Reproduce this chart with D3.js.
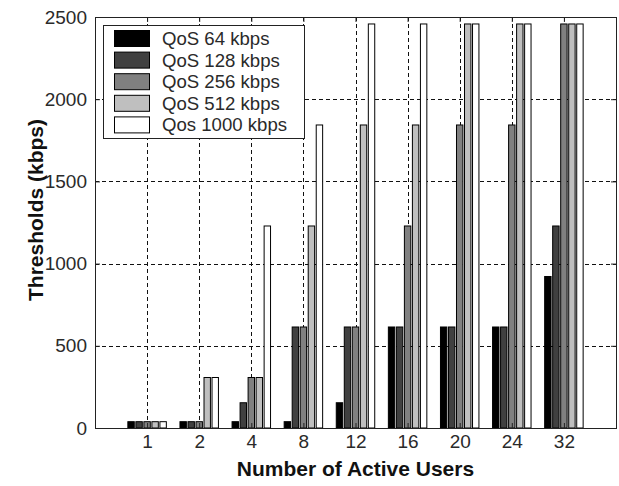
<!DOCTYPE html>
<html>
<head>
<meta charset="utf-8">
<script src="https://cdn.jsdelivr.net/npm/d3@7"></script>
<style>
  html, body { margin: 0; padding: 0; background: #fff; }
  svg { display: block; }
  text { font-family: "Liberation Sans", Arial, sans-serif; }
</style>
</head>
<body>
<svg id="chart" width="619" height="486"></svg>
<script>
// categories (x axis) and series values
var users = ["1", "2", "4", "8", "12", "16", "20", "24", "32"];
var qos64   = [38.4, 38.4, 38.4, 38.4, 153.6, 614.4, 614.4, 614.4, 921.6];
var qos128  = [38.4, 38.4, 153.6, 614.4, 614.4, 614.4, 614.4, 614.4, 1228.8];
var qos256  = [38.4, 38.4, 307.2, 614.4, 614.4, 1228.8, 1843.2, 1843.2, 2457.6];
var qos512  = [38.4, 307.2, 307.2, 1228.8, 1843.2, 1843.2, 2457.6, 2457.6, 2457.6];
var qos1000 = [38.4, 307.2, 1228.8, 1843.2, 2457.6, 2457.6, 2457.6, 2457.6, 2457.6];
var seriesNames = ["QoS 64 kbps", "QoS 128 kbps", "QoS 256 kbps", "QoS 512 kbps", "Qos 1000 kbps"];
var yTicks = [0, 500, 1000, 1500, 2000, 2500];

var series = [qos64, qos128, qos256, qos512, qos1000];
var fills = ["#000000", "#404040", "#808080", "#bfbfbf", "#ffffff"];

var plotL = 95, plotR = 616, plotT = 17, plotB = 428;
var svg = d3.select("#chart");

// matlab style positions: categories sit at 1..9 on a 0..10 axis
var xScale = d3.scaleLinear().domain([0, users.length + 1]).range([plotL, plotR]);
var yScale = d3.scaleLinear().domain([0, 2500]).range([plotB, plotT]);
var catPos = users.map(function (d, i) { return i + 1; });

var groupWidth = Math.min(0.8, series.length / (series.length + 1.5));
var step = groupWidth / series.length;
var barW = step * 0.8;

// grid (dashed, behind bars)
var grid = svg.append("g").attr("class", "grid")
    .attr("stroke", "#111").attr("stroke-width", 1).attr("stroke-dasharray", "4,3");
grid.selectAll(".vgrid").data(catPos).enter().append("line")
    .attr("x1", function (d) { return Math.round(xScale(d)) + 0.5; })
    .attr("x2", function (d) { return Math.round(xScale(d)) + 0.5; })
    .attr("y1", plotT).attr("y2", plotB);
grid.selectAll(".hgrid").data(yTicks.slice(1, -1)).enter().append("line")
    .attr("y1", function (d) { return Math.round(yScale(d)) + 0.5; })
    .attr("y2", function (d) { return Math.round(yScale(d)) + 0.5; })
    .attr("x1", plotL).attr("x2", plotR);

// bars
series.forEach(function (vals, s) {
    svg.append("g").attr("class", "series-" + s)
        .selectAll("rect").data(vals).enter().append("rect")
        .attr("x", function (d, i) {
            var c = catPos[i] + (s - (series.length - 1) / 2) * step;
            return xScale(c - barW / 2);
        })
        .attr("width", xScale(barW) - xScale(0))
        .attr("y", function (d) { return yScale(d); })
        .attr("height", function (d) { return yScale(0) - yScale(d); })
        .attr("fill", fills[s])
        .attr("stroke", "#000")
        .attr("stroke-width", 1);
});

// axes, ticks pointing inward
var fontSize = 19;
var xAxis = d3.axisBottom(xScale).tickValues(catPos)
    .tickFormat(function (d) { return users[d - 1]; })
    .tickSize(-5).tickSizeOuter(0).tickPadding(7);
var yAxis = d3.axisLeft(yScale).tickValues(yTicks)
    .tickFormat(d3.format("d"))
    .tickSize(-5).tickSizeOuter(0).tickPadding(8);

var gx = svg.append("g").attr("transform", "translate(0," + plotB + ")").call(xAxis);
var gy = svg.append("g").attr("transform", "translate(" + plotL + ",0)").call(yAxis);
svg.append("g").attr("transform", "translate(0," + plotT + ")")
    .call(d3.axisTop(xScale).tickValues(catPos).tickFormat("").tickSize(-5).tickSizeOuter(0));
svg.append("g").attr("transform", "translate(" + plotR + ",0)")
    .call(d3.axisRight(yScale).tickValues(yTicks).tickFormat("").tickSize(-5).tickSizeOuter(0));

svg.selectAll(".domain").remove();
svg.selectAll(".tick line").attr("stroke", "#222");
[gx, gy].forEach(function (g) {
    g.selectAll("text").attr("font-size", fontSize).attr("fill", "#2a2a2a")
        .attr("font-family", "Liberation Sans, Arial, sans-serif");
});

svg.append("rect")
    .attr("x", plotL + 0.5).attr("y", plotT + 0.5)
    .attr("width", plotR - plotL).attr("height", plotB - plotT)
    .attr("fill", "none").attr("stroke", "#222").attr("stroke-width", 1);

// axis titles
svg.append("text")
    .attr("x", (plotL + plotR) / 2).attr("y", 476)
    .attr("text-anchor", "middle")
    .attr("font-size", 21).attr("font-weight", "bold").attr("fill", "#111")
    .text("Number of Active Users");
svg.append("text")
    .attr("transform", "translate(43,210) rotate(-90)")
    .attr("text-anchor", "middle")
    .attr("font-size", 21).attr("font-weight", "bold").attr("fill", "#111")
    .text("Thresholds (kbps)");

// legend
var legend = svg.append("g").attr("class", "legend");
legend.append("rect")
    .attr("x", 103.5).attr("y", 25.5).attr("width", 201).attr("height", 113)
    .attr("fill", "#fff").attr("stroke", "#222");
var items = legend.selectAll(".item").data(seriesNames).enter().append("g")
    .attr("transform", function (d, i) { return "translate(0," + (38.5 + i * 21.6) + ")"; });
items.append("rect")
    .attr("x", 114.5).attr("y", -8).attr("width", 35).attr("height", 16)
    .attr("fill", function (d, i) { return fills[i]; })
    .attr("stroke", "#000");
items.append("text")
    .attr("x", 162).attr("y", 6.5)
    .attr("font-size", 18.6).attr("fill", "#2a2a2a")
    .text(function (d) { return d; });
</script>
</body>
</html>
